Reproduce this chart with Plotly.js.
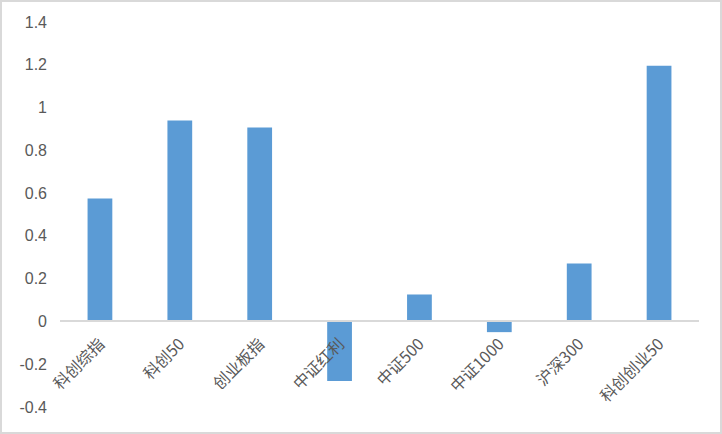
<!DOCTYPE html>
<html><head><meta charset="utf-8">
<script src="https://cdn.plot.ly/plotly-3.0.1.min.js"></script>
<style>
html,body{margin:0;padding:0;background:#fff;}
#frame{width:722px;height:434px;box-sizing:border-box;border:2px solid #d9d9d9;}
#chart{width:718px;height:430px;}
</style></head>
<body><div id="frame"><div id="chart"></div></div>
<script>
const categories = ["科创综指","科创50","创业板指","中证红利","中证500","中证1000","沪深300","科创创业50"];
const values = [0.575, 0.939, 0.907, -0.279, 0.126, -0.05, 0.271, 1.196];
const yTicks = [-0.4,-0.2,0,0.2,0.4,0.6,0.8,1,1.2,1.4];
const yTickText = ["-0.4","-0.2","0","0.2","0.4","0.6","0.8","1","1.2","1.4"];
const yMin = -0.4, yMax = 1.4;

const yFont = {family: "'Liberation Sans','Noto Sans',sans-serif", size: 16, color: "#595959"};
const xFont = {family: "'Noto Sans CJK SC',sans-serif", size: 16, color: "#595959"};

Plotly.newPlot("chart", [{
  type: "bar",
  x: categories,
  y: values,
  marker: {color: "#5b9bd5"},
  width: 0.31,
  hoverinfo: "none"
}], {
  width: 718, height: 430,
  margin: {l: 58, r: 21, t: 20, b: 25, pad: 0},
  paper_bgcolor: "#fff", plot_bgcolor: "#fff",
  font: yFont,
  showlegend: false,
  xaxis: {
    type: "category",
    anchor: "free",
    position: (0 - yMin) / (yMax - yMin),
    showline: true, linecolor: "#d9d9d9", linewidth: 2,
    ticks: "", tickangle: -45, tickfont: xFont, ticklabelstandoff: 6,
    showgrid: false, zeroline: false, automargin: false
  },
  yaxis: {
    range: [yMin, yMax],
    tickvals: yTicks, ticktext: yTickText,
    showgrid: false, zeroline: false, showline: false,
    ticks: "", tickfont: yFont, ticklabelstandoff: 12,
    automargin: false
  }
}, {staticPlot: true});
</script></body></html>
